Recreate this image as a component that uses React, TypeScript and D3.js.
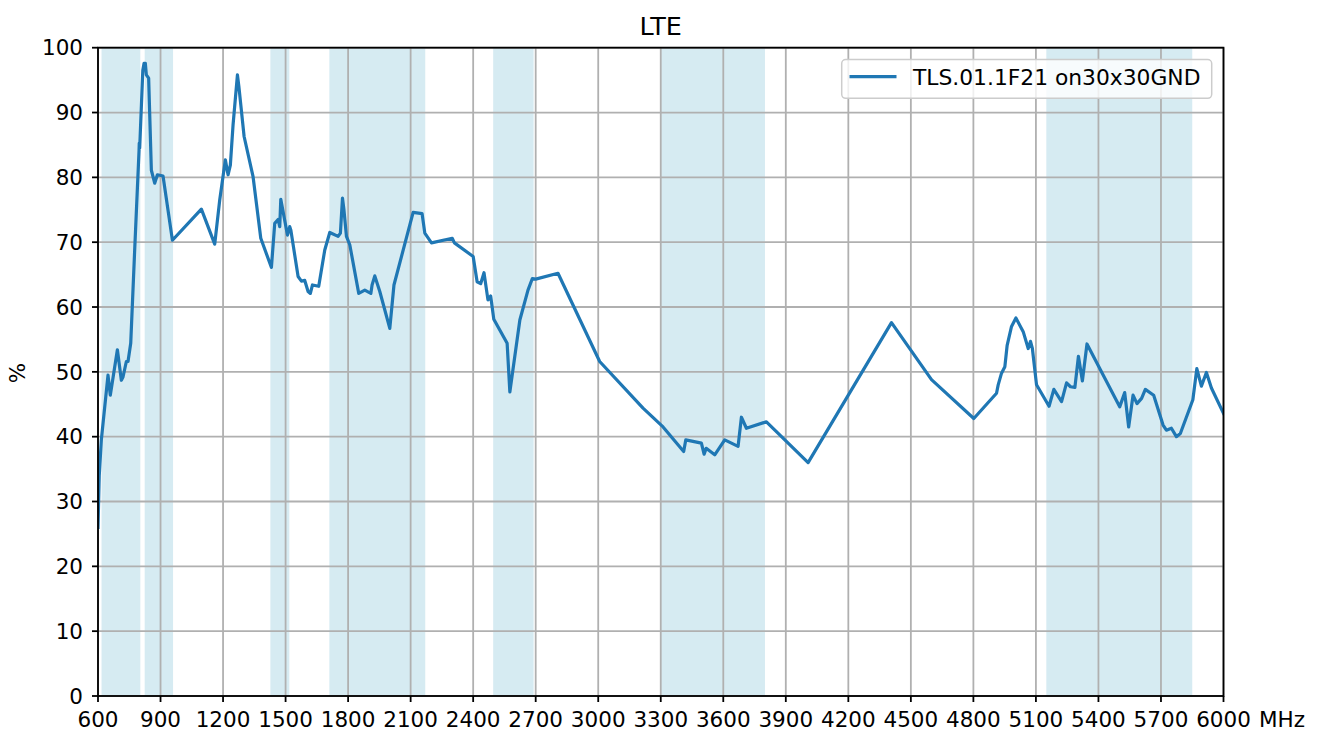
import React from "react";
import * as d3 from "d3";

const freqs = [600, 606, 616, 648, 659, 693, 712, 720, 736, 744, 757, 776, 797, 798, 800, 815, 821, 827, 832, 843, 856, 872, 885, 912, 957, 1096, 1160, 1184, 1211, 1224, 1235, 1248, 1269, 1276, 1301, 1344, 1381, 1432, 1448, 1464, 1472, 1477, 1509, 1520, 1525, 1560, 1576, 1592, 1608, 1619, 1629, 1659, 1688, 1712, 1752, 1763, 1773, 1780, 1792, 1808, 1851, 1880, 1909, 1915, 1928, 1952, 2000, 2020, 2112, 2155, 2168, 2200, 2300, 2310, 2400, 2419, 2436, 2452, 2471, 2484, 2499, 2563, 2576, 2624, 2663, 2684, 2700, 2807, 3007, 3215, 3311, 3410, 3420, 3495, 3508, 3518, 3559, 3607, 3671, 3687, 3711, 3807, 4007, 4407, 4599, 4802, 4911, 4919, 4935, 4951, 4962, 4983, 5004, 5039, 5063, 5074, 5083, 5103, 5163, 5186, 5223, 5247, 5266, 5287, 5304, 5323, 5345, 5502, 5526, 5545, 5566, 5585, 5607, 5625, 5665, 5710, 5726, 5750, 5774, 5793, 5853, 5872, 5894, 5918, 5942, 6000];
const efficiency = [26, 34, 39.5, 49.5, 46.4, 53.4, 48.7, 49.2, 51.6, 51.6, 54.4, 68.8, 84.2, 85.3, 84.5, 96.5, 97.6, 97.6, 95.8, 95.3, 81.1, 79.1, 80.4, 80.2, 70.3, 75.1, 69.7, 76.5, 82.7, 80.4, 81.9, 88.1, 95.8, 94, 86.3, 80.1, 70.6, 66.1, 72.9, 73.5, 72.4, 76.6, 71.1, 72.4, 71.9, 64.7, 64.0, 64.1, 62.4, 62.1, 63.4, 63.2, 68.8, 71.5, 70.9, 71.4, 76.8, 75, 70.9, 69.6, 62.1, 62.6, 62.1, 63.4, 64.8, 62.4, 56.7, 63.4, 74.6, 74.4, 71.4, 69.9, 70.6, 69.9, 67.8, 63.9, 63.6, 65.3, 61.1, 61.7, 58.1, 54.4, 46.9, 58.0, 62.6, 64.4, 64.3, 65.2, 51.6, 44.4, 41.5, 37.7, 39.5, 39.0, 37.3, 38.2, 37.2, 39.5, 38.5, 43.0, 41.3, 42.3, 36.0, 57.6, 48.8, 42.8, 46.7, 48.0, 49.8, 50.8, 54.1, 57.0, 58.3, 56.2, 53.6, 54.7, 53.6, 48.0, 44.7, 47.3, 45.4, 48.3, 47.7, 47.6, 52.4, 48.6, 54.3, 44.6, 46.8, 41.5, 46.4, 45.1, 45.9, 47.3, 46.4, 41.8, 41.0, 41.3, 40.0, 40.5, 45.7, 50.5, 47.8, 49.9, 47.5, 43.6];

const bandStarts = [617, 824, 1427, 1710, 2496, 3300, 5150];
const bandEnds = [803, 960, 1518, 2170, 2690, 3800, 5850];

const xTicks = [600, 900, 1200, 1500, 1800, 2100, 2400, 2700, 3000, 3300, 3600, 3900, 4200, 4500, 4800, 5100, 5400, 5700, 6000];
const yTicks = [0, 10, 20, 30, 40, 50, 60, 70, 80, 90, 100];

const title = "LTE";
const seriesName = "TLS.01.1F21 on30x30GND";
const xUnit = "MHz";
const yLabel = "%";

const W = 1329;
const H = 731;
const L = 98;
const R = 1223.5;
const T = 47.7;
const B = 696;
const FONT = "DejaVu Sans, sans-serif";
const TICK_FS = 21.5;

export default function App() {
  const x = d3.scaleLinear().domain([600, 6000]).range([L, R]);
  const y = d3.scaleLinear().domain([0, 100]).range([B, T]);
  const pts: [number, number][] = freqs.map((f, i) => [f, efficiency[i]]);
  const line = d3
    .line<[number, number]>()
    .x((d) => x(d[0]))
    .y((d) => y(d[1]));

  return (
    <svg
      width={W}
      height={H}
      style={{ position: "absolute", left: 0, top: 0, background: "#fff" }}
      fontFamily={FONT}
    >
      <rect x={0} y={0} width={W} height={H} fill="#fff" />
      <defs>
        <clipPath id="plotclip">
          <rect x={L} y={T} width={R - L} height={B - T} />
        </clipPath>
      </defs>
      {bandStarts.map((s, i) => (
        <rect
          key={"b" + i}
          x={x(s)}
          y={T}
          width={x(bandEnds[i]) - x(s)}
          height={B - T}
          fill="#add8e6"
          fillOpacity={0.5}
        />
      ))}
      {xTicks.map((t) => (
        <line key={"gx" + t} x1={x(t)} x2={x(t)} y1={T} y2={B} stroke="#b0b0b0" strokeWidth={1.8} />
      ))}
      {yTicks.map((t) => (
        <line key={"gy" + t} x1={L} x2={R} y1={y(t)} y2={y(t)} stroke="#b0b0b0" strokeWidth={1.8} />
      ))}
      <path
        d={line(pts) || ""}
        fill="none"
        stroke="#1f77b4"
        strokeWidth={3.2}
        strokeLinejoin="round"
        strokeLinecap="square"
        clipPath="url(#plotclip)"
      />
      <rect x={L} y={T} width={R - L} height={B - T} fill="none" stroke="#000" strokeWidth={1.8} />
      {xTicks.map((t) => (
        <g key={"tx" + t}>
          <line x1={x(t)} x2={x(t)} y1={B} y2={B + 6} stroke="#000" strokeWidth={1.8} />
          <text x={x(t)} y={727} textAnchor="middle" fontSize={TICK_FS} fill="#000">
            {t}
          </text>
        </g>
      ))}
      {yTicks.map((t) => (
        <g key={"ty" + t}>
          <line x1={L - 6} x2={L} y1={y(t)} y2={y(t)} stroke="#000" strokeWidth={1.8} />
          <text x={83} y={y(t)} dy="0.36em" textAnchor="end" fontSize={TICK_FS} fill="#000">
            {t}
          </text>
        </g>
      ))}
      <text x={1259} y={727} fontSize={TICK_FS} fill="#000">
        {xUnit}
      </text>
      <text
        transform={`translate(25, 373) rotate(-90)`}
        textAnchor="middle"
        fontSize={TICK_FS}
        fill="#000"
      >
        {yLabel}
      </text>
      <text x={(L + R) / 2} y={35} textAnchor="middle" fontSize={25.5} fill="#000">
        {title}
      </text>
      <g>
        <rect
          x={841.7}
          y={59.5}
          width={370}
          height={38.8}
          rx={4}
          fill="#fff"
          fillOpacity={0.8}
          stroke="#cccccc"
          strokeWidth={1.5}
        />
        <line x1={849.5} x2={896.5} y1={76.7} y2={76.7} stroke="#1f77b4" strokeWidth={3.2} />
        <text x={913} y={85} fontSize={21.8} fill="#000">
          {seriesName}
        </text>
      </g>
    </svg>
  );
}
